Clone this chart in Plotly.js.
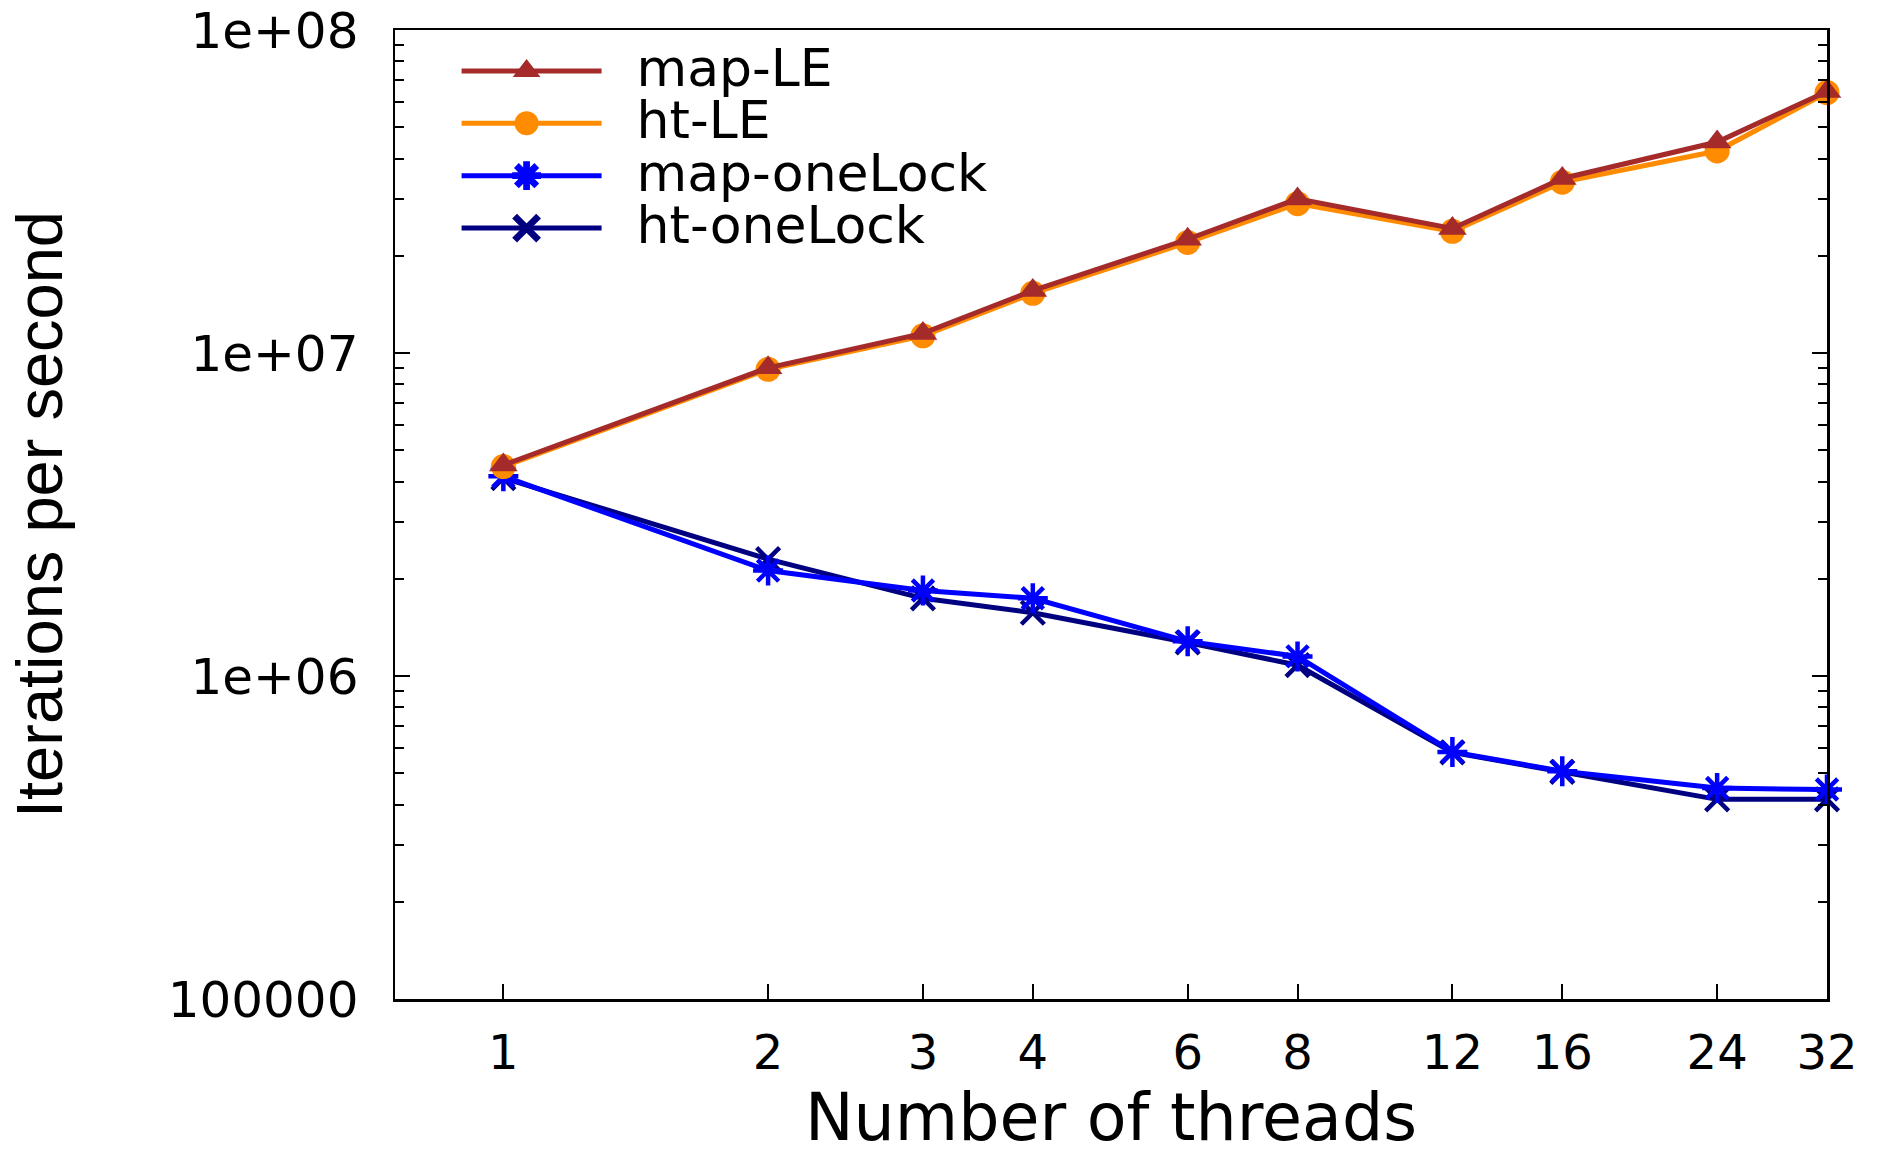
<!DOCTYPE html>
<html>
<head>
<meta charset="utf-8">
<script src="https://cdn.plot.ly/plotly-3.0.1.min.js"></script>
<style>
  html, body { margin: 0; padding: 0; background: #fff; }
  #chart { width: 1886px; height: 1157px; }
  .legend .scrollbox { clip-path: none !important; }
  .legendtext { font-size: 52px !important; transform: translate(30px, 0px); }
  .legend .legendpoints path.scatterpts { transform: translate(70px, 0px) scale(1.5); }
</style>
</head>
<body>
<div id="chart"></div>
<script>
const threads = [1, 2, 3, 4, 6, 8, 12, 16, 24, 32];
const tickLabels = ['1', '2', '3', '4', '6', '8', '12', '16', '24', '32'];
const mapLE = [4.5e6, 9.0e6, 1.15e7, 1.56e7, 2.25e7, 3.0e7, 2.43e7, 3.47e7, 4.5e7, 6.45e7];
const htLE = [4.45e6, 8.9e6, 1.13e7, 1.53e7, 2.2e7, 2.9e7, 2.38e7, 3.38e7, 4.22e7, 6.4e7];
const mapOneLock = [4.15e6, 2.12e6, 1.84e6, 1.74e6, 1.28e6, 1.15e6, 5.82e5, 5.07e5, 4.5e5, 4.45e5];
const htOneLock = [4.1e6, 2.3e6, 1.74e6, 1.57e6, 1.27e6, 1.08e6, 5.8e5, 5.05e5, 4.15e5, 4.15e5];

function tr(name, y, color, symbol, size, open) {
  return {
    x: threads, y: y, name: name, type: 'scatter', mode: 'lines+markers',
    cliponaxis: false,
    line: { color: color, width: 5 },
    marker: open
      ? { symbol: symbol, size: size, color: color, line: { color: color, width: 4.5 } }
      : { symbol: symbol, size: size, color: color }
  };
}

const data = [
  tr('ht-oneLock', htOneLock, '#000080', 'x-thin-open', 23, true),
  tr('map-oneLock', mapOneLock, '#0000ff', 'asterisk-open', 25, true),
  tr('ht-LE', htLE, '#ff8c00', 'circle', 25, false),
  tr('map-LE', mapLE, '#a52a2a', 'triangle-up', 25, false)
];

const layout = {
  width: 1886, height: 1157,
  paper_bgcolor: '#ffffff', plot_bgcolor: '#ffffff',
  margin: { l: 394.5, r: 59, t: 30, b: 157.5, pad: 0 },
  showlegend: true,
  legend: {
    x: 0.043, y: 0.99, xanchor: 'left', yanchor: 'top',
    traceorder: 'reversed', itemwidth: 140, itemsizing: 'trace',
    bgcolor: 'rgba(0,0,0,0)', borderwidth: 0,
    font: { family: 'DejaVu Sans', size: 38, color: '#000' }
  },
  xaxis: {
    type: 'log',
    range: [Math.log10(0.753), Math.log10(32)],
    tickmode: 'array', tickvals: threads, ticktext: tickLabels,
    ticks: 'inside', ticklen: 15, tickwidth: 2, tickcolor: '#000',
    ticklabelstandoff: 10,
    showline: true, linecolor: '#000', linewidth: 2.5, mirror: true,
    showgrid: false, zeroline: false,
    tickfont: { family: 'DejaVu Sans', size: 48, color: '#000' },
    title: { text: '' }
  },
  yaxis: {
    type: 'log',
    range: [5, 8],
    tickmode: 'array',
    tickvals: [1e5, 1e6, 1e7, 1e8],
    ticktext: ['100000', '1e+06', '1e+07', '1e+08'],
    ticks: 'inside', ticklen: 15, tickwidth: 2, tickcolor: '#000',
    ticklabelstandoff: 24,
    minor: { ticks: 'inside', ticklen: 9, tickwidth: 2, tickcolor: '#000', dtick: 'D1', showgrid: false },
    showline: true, linecolor: '#000', linewidth: 2.5, mirror: 'ticks',
    showgrid: false, zeroline: false,
    tickfont: { family: 'DejaVu Sans', size: 50, color: '#000' },
    title: { text: 'Iterations per second', standoff: 84,
             font: { family: 'Liberation Sans', size: 65, color: '#000' } }
  },
  annotations: [{
    text: 'Number of threads', xref: 'paper', yref: 'paper',
    x: 0.5, y: -0.1225, xanchor: 'center', yanchor: 'middle', showarrow: false,
    font: { family: 'DejaVu Sans', size: 65, color: '#000' }
  }]
};

Plotly.newPlot('chart', data, layout, { staticPlot: true, displayModeBar: false });
</script>
</body>
</html>
